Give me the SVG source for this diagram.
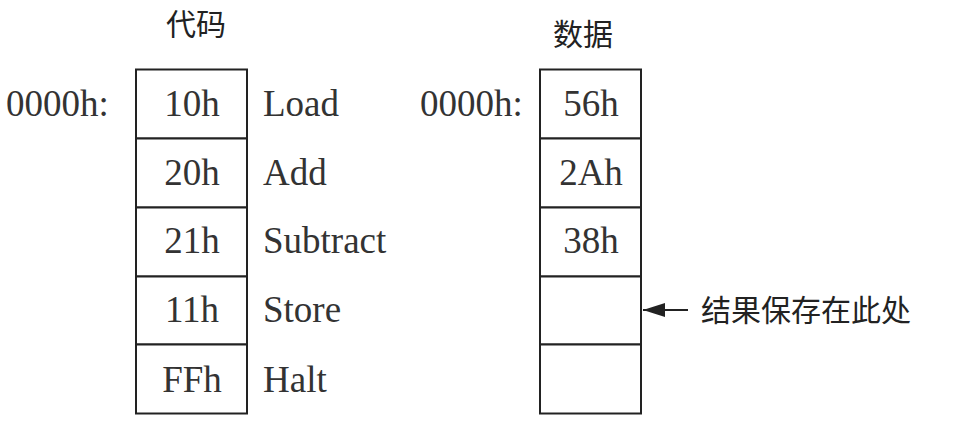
<svg xmlns="http://www.w3.org/2000/svg" width="971" height="424" viewBox="0 0 971 424">
  <defs>
    <marker id="head" viewBox="0 0 22 16" refX="22" refY="8" markerWidth="22" markerHeight="16" markerUnits="userSpaceOnUse" orient="auto">
      <path d="M22,8 L0,1 L0,15 Z" fill="#222"/>
    </marker>
  </defs>
  <style>
    .cell { fill: #fff; stroke: #222; stroke-width: 2; }
    .num { font-family: "Liberation Serif", "Times New Roman", serif; font-size: 37px; fill: #333; }
    .mid { text-anchor: middle; }
    .cjk { font-family: "Noto Sans CJK SC", sans-serif; font-size: 30px; fill: #222; }
    .link { stroke: #222; stroke-width: 2; fill: none; }
  </style>
  <rect width="971" height="424" fill="#fff"/>

  <!-- code memory -->
  <g id="code">
    <text class="cjk mid" x="196" y="35">代码</text>
    <text class="num" x="6" y="116">0000h:</text>
    <rect class="cell" x="136" y="69.5" width="111" height="69"/>
    <rect class="cell" x="136" y="138.5" width="111" height="69"/>
    <rect class="cell" x="136" y="207.5" width="111" height="69"/>
    <rect class="cell" x="136" y="276.5" width="111" height="68"/>
    <rect class="cell" x="136" y="344.5" width="111" height="69"/>
    <text class="num mid" x="192" y="116">10h</text>
    <text class="num mid" x="192" y="185">20h</text>
    <text class="num mid" x="192" y="253">21h</text>
    <text class="num mid" x="192" y="322">11h</text>
    <text class="num mid" x="192" y="392">FFh</text>
    <text class="num" x="263" y="116">Load</text>
    <text class="num" x="263" y="185">Add</text>
    <text class="num" x="263" y="253">Subtract</text>
    <text class="num" x="263" y="322">Store</text>
    <text class="num" x="263" y="392">Halt</text>
  </g>

  <!-- data memory -->
  <g id="data">
    <text class="cjk mid" x="583" y="45">数据</text>
    <text class="num" x="420" y="116">0000h:</text>
    <rect class="cell" x="540" y="69.5" width="101" height="69"/>
    <rect class="cell" x="540" y="138.5" width="101" height="69"/>
    <rect class="cell" x="540" y="207.5" width="101" height="69"/>
    <rect class="cell" x="540" y="276.5" width="101" height="68"/>
    <rect class="cell" x="540" y="344.5" width="101" height="69"/>
    <text class="num mid" x="591" y="116">56h</text>
    <text class="num mid" x="591" y="185">2Ah</text>
    <text class="num mid" x="591" y="253">38h</text>
  </g>

  <g id="note">
    <text class="cjk" x="701" y="321">结果保存在此处</text>
  </g>

  <g id="connectors">
    <line class="link" x1="688" y1="310" x2="643" y2="310" marker-end="url(#head)"/>
  </g>
</svg>
